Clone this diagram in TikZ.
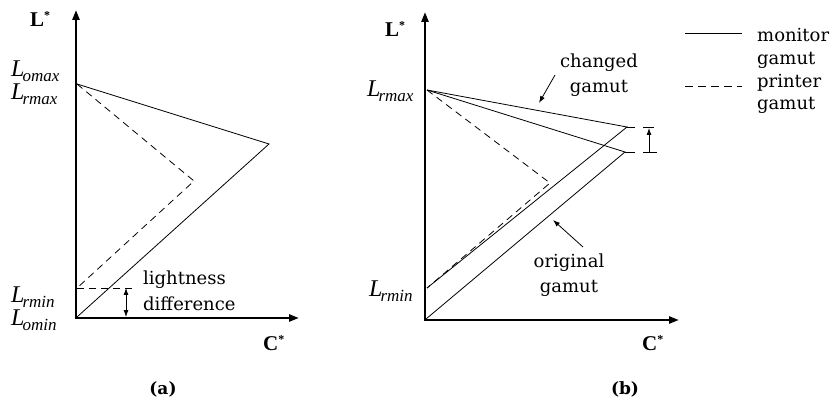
\documentclass[tikz,border=0pt]{standalone}
\usepackage{fontspec}
\setmainfont{Liberation Serif}
\newfontfamily\dvs{DejaVu Serif}
\usetikzlibrary{arrows.meta}
\newcommand{\Lsub}[2]{{\itshape\fontsize{24}{24}\selectfont #1\kern-2pt\raisebox{-5pt}{\fontsize{17}{17}\selectfont #2}}}
\newcommand{\Bstar}[1]{{\bfseries\fontsize{21}{21}\selectfont #1\raisebox{7pt}{\fontsize{12}{12}\selectfont *}}}
\begin{document}
\begin{tikzpicture}[x=1pt,y=-1pt,
  axis/.style={line width=2.4pt,{Triangle[length=10pt,width=7pt]}-{Triangle[length=10pt,width=7pt]}},
  gam/.style={line width=0.8pt},
  pgam/.style={line width=0.8pt,dash pattern=on 7pt off 5pt},
  lbl/.style={font=\dvs\fontsize{18}{18}\selectfont,inner sep=0pt},
  sublbl/.style={font=\dvs\bfseries\fontsize{17}{17}\selectfont,inner sep=0pt},
  ltx/.style={inner sep=0pt,anchor=base west},
  pointer/.style={line width=0.8pt,-{Latex[length=7pt,width=5pt]}},
  dbl/.style={line width=0.8pt,{Latex[length=7pt,width=5pt]}-{Latex[length=7pt,width=5pt]}}]
\useasboundingbox (0,0) rectangle (835,403);

% ---------------- (a) ----------------
\coordinate (aY) at (76,10);
\coordinate (aO) at (76,318);
\coordinate (aX) at (299,318);
\coordinate (aTop) at (77,84);
\coordinate (aM) at (269,144);
\coordinate (aP) at (194,181);
\coordinate (aRmin) at (77,288);
\coordinate (aDashEnd) at (133,288);
\coordinate (aOin) at (77,317);
\coordinate (aArrT) at (126,288);
\coordinate (aArrB) at (126,317);

\draw[axis] (aY) -- (aO) -- (aX);
\draw[gam] (aTop) -- (aM) -- (aOin);
\draw[pgam] (aTop) -- (aP) -- (aRmin);
\draw[pgam] (aRmin) -- (aDashEnd);
\draw[dbl] (aArrT) -- (aArrB);

\node[ltx] (aLs) at (30,27) {\Bstar{L}};
\node[ltx] (aCs) at (263,350) {\Bstar{C}};
\node[ltx] (aLomax) at (11,77) {\Lsub{L}{omax}};
\node[ltx] (aLrmax) at (11,100) {\Lsub{L}{rmax}};
\node[ltx] (aLrmin) at (11,302) {\Lsub{L}{rmin}};
\node[ltx] (aLomin) at (11,325) {\Lsub{L}{omin}};
\node[lbl,anchor=base west] (light) at (143,285) {lightness};
\node[lbl,anchor=base west] (diff) at (143,310) {difference};
\node[sublbl] (capa) at (163,389) {(a)};

% ---------------- (b) ----------------
\coordinate (bY) at (425,12);
\coordinate (bO) at (425,320);
\coordinate (bX) at (679,320);
\coordinate (bTop) at (427,90);
\coordinate (bC) at (627,127);
\coordinate (bOr) at (625,152);
\coordinate (bRmin) at (427,288);
\coordinate (bP) at (550,183);
\coordinate (bOin) at (426,319);
\coordinate (bCt) at (635,127);
\coordinate (bOrt) at (635,152);
\coordinate (bBarT1) at (643,127);
\coordinate (bBarT2) at (654,127);
\coordinate (bBarB1) at (643,152);
\coordinate (bBarB2) at (657,152);
\coordinate (bArrB) at (649,152);
\coordinate (bArrT) at (649,128);

\draw[axis] (bY) -- (bO) -- (bX);
\draw[gam] (bTop) -- (bC) -- (bRmin);
\draw[gam] (bTop) -- (bOr) -- (bOin);
\draw[pgam] (bTop) -- (bP) -- (bRmin);
\draw[gam] (bC) -- (bCt);
\draw[gam] (bOr) -- (bOrt);
\draw[gam] (bBarT1) -- (bBarT2);
\draw[gam] (bBarB1) -- (bBarB2);
\draw[pointer] (bArrB) -- (bArrT);

\node[ltx] (bLs) at (385,37) {\Bstar{L}};
\node[ltx] (bCs) at (642,350) {\Bstar{C}};
\node[ltx] (bLrmax) at (367,97) {\Lsub{L}{rmax}};
\node[ltx] (bLrmin) at (369,297) {\Lsub{L}{rmin}};

\node[lbl,anchor=base] (chg1) at (599,68) {changed};
\node[lbl,anchor=base] (chg2) at (599,93) {gamut};
\coordinate (chgFrom) at (555,75);
\coordinate (chgTo) at (539,103);
\draw[pointer] (chgFrom) -- (chgTo);

\node[lbl,anchor=base] (org1) at (569,268) {original};
\node[lbl,anchor=base] (org2) at (569,293) {gamut};
\coordinate (orgFrom) at (583,247);
\coordinate (orgTo) at (553,220);
\draw[pointer] (orgFrom) -- (orgTo);

\node[sublbl] (capb) at (625,389) {(b)};

% ---------------- legend ----------------
\coordinate (lg1a) at (685,33);
\coordinate (lg1b) at (742,33);
\coordinate (lg2a) at (685,86);
\coordinate (lg2b) at (742,86);
\draw[gam] (lg1a) -- (lg1b);
\draw[line width=0.8pt,dash pattern=on 8pt off 5pt] (lg2a) -- (lg2b);
\node[lbl,anchor=base west] (mon1) at (757,42) {monitor};
\node[lbl,anchor=base west] (mon2) at (757,65) {gamut};
\node[lbl,anchor=base west] (pr1) at (757,88) {printer};
\node[lbl,anchor=base west] (pr2) at (757,110) {gamut};
\end{tikzpicture}
\end{document}
